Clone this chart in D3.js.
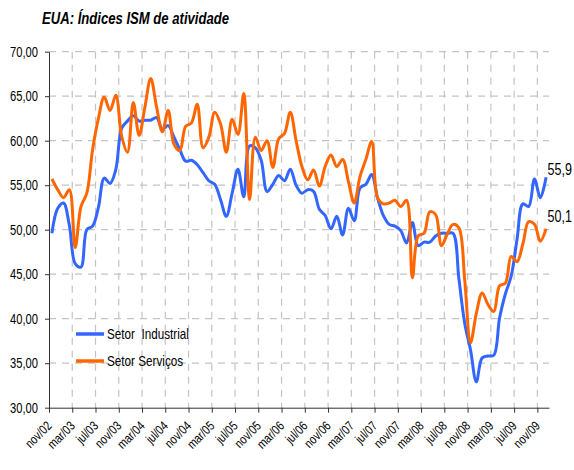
<!DOCTYPE html>
<html><head><meta charset="utf-8">
<script src="https://cdn.jsdelivr.net/npm/d3@7"></script>
<style>
body{margin:0;background:#fff;}
svg text{font-family:"Liberation Sans",Arial,sans-serif;fill:#000;}
</style></head><body>
<svg id="c" width="574" height="470"></svg>
<script>
const months = [
 "nov/02","dez/02",
 "jan/03","fev/03","mar/03","abr/03","mai/03","jun/03","jul/03","ago/03","set/03","out/03","nov/03","dez/03",
 "jan/04","fev/04","mar/04","abr/04","mai/04","jun/04","jul/04","ago/04","set/04","out/04","nov/04","dez/04",
 "jan/05","fev/05","mar/05","abr/05","mai/05","jun/05","jul/05","ago/05","set/05","out/05","nov/05","dez/05",
 "jan/06","fev/06","mar/06","abr/06","mai/06","jun/06","jul/06","ago/06","set/06","out/06","nov/06","dez/06",
 "jan/07","fev/07","mar/07","abr/07","mai/07","jun/07","jul/07","ago/07","set/07","out/07","nov/07","dez/07",
 "jan/08","fev/08","mar/08","abr/08","mai/08","jun/08","jul/08","ago/08","set/08","out/08","nov/08","dez/08",
 "jan/09","fev/09","mar/09","abr/09","mai/09","jun/09","jul/09","ago/09","set/09","out/09","nov/09","dez/09"
];
const industrial = [
 49.6,52.4,
 53.0,50.5,46.2,45.8,50.0,50.4,52.5,55.8,55.2,56.8,61.4,62.2,
 62.8,62.2,62.3,62.3,62.6,61.3,61.7,60.4,59.0,57.7,57.8,57.3,
 56.4,55.5,55.1,53.4,51.5,54.1,56.8,53.7,59.4,59.2,57.8,54.3,
 55.1,56.1,55.5,56.8,55.0,54.1,54.5,54.3,52.3,51.6,50.1,51.5,
 49.4,52.4,51.0,54.7,55.1,56.2,53.6,51.6,50.6,50.4,49.9,48.5,
 50.8,48.2,48.6,48.6,49.3,49.6,49.6,49.6,44.5,39.5,36.5,32.9,
 35.6,35.8,35.9,40.1,42.8,44.8,48.9,52.9,52.6,55.7,53.6,55.9
];
const servicos = [
 55.7,54.5,
 53.6,54.5,48.0,52.6,54.1,59.0,62.5,64.9,63.4,65.1,60.5,58.7,
 64.3,60.6,63.8,67.0,63.8,61.0,63.4,59.6,58.9,61.6,62.0,64.1,
 59.2,60.4,63.2,61.9,58.7,62.4,60.7,65.3,53.4,60.4,58.9,60.0,
 57.0,60.2,60.8,63.2,60.0,57.1,55.6,56.7,54.9,57.1,58.4,57.1,
 57.9,55.4,53.0,56.0,57.9,59.9,53.6,52.9,53.0,53.3,52.6,53.3,
 44.6,49.3,49.6,52.0,51.7,48.2,49.5,50.6,50.2,44.4,37.3,40.6,
 42.9,41.6,40.8,43.7,44.0,47.0,46.4,48.4,50.9,50.6,48.7,50.1
];
const yTicks = [30,35,40,45,50,55,60,65,70];
const xTickLabels = ["nov/02","mar/03","jul/03","nov/03","mar/04","jul/04","nov/04","mar/05","jul/05","nov/05","mar/06","jul/06","nov/06","mar/07","jul/07","nov/07","mar/08","jul/08","nov/08","mar/09","jul/09","nov/09"];
const seriesNames = ["Setor  Industrial","Setor Serviços"];
const seriesColors = ["#3366FF","#FF6600"];
const endLabels = ["55,9","50,1"];
const endLabelDy = [-2, -7];
const title = "EUA: Índices ISM de atividade";

const svg = d3.select("#c");
const L=49, R=549, T=51.7, B=407.7;
const xi = d3.scaleLinear().domain([0, months.length]).range([L, R]);
const y = d3.scaleLinear().domain([30, 70]).range([B, T]);
const tickIdx = xTickLabels.map(l => months.indexOf(l));
const grid = "#c4c4c4";

function squeeze(sel, f) {
  sel.each(function () {
    const w = this.getComputedTextLength();
    d3.select(this).attr("textLength", (w * f).toFixed(1)).attr("lengthAdjust", "spacingAndGlyphs");
  });
}

// horizontal grid
svg.append("g").selectAll("line").data(yTicks.filter(v => v > 30)).join("line")
  .attr("x1", L).attr("x2", R).attr("y1", d => y(d)).attr("y2", d => y(d))
  .attr("stroke", grid).attr("stroke-width", 1.2).attr("stroke-dasharray", "7,6");
// vertical grid
svg.append("g").selectAll("line").data(tickIdx.slice(1)).join("line")
  .attr("x1", d => xi(d)).attr("x2", d => xi(d)).attr("y1", T).attr("y2", B)
  .attr("stroke", grid).attr("stroke-width", 1.2).attr("stroke-dasharray", "7,6");

// y axis
const ya = svg.append("g").attr("transform", `translate(${L},0)`)
  .call(d3.axisLeft(y).tickValues(yTicks).tickSize(4).tickSizeOuter(0)
    .tickFormat(d => d3.format(".2f")(d).replace(".", ",")));
ya.select(".domain").attr("stroke", "#333");
ya.selectAll(".tick line").attr("stroke", "#333");
ya.selectAll("text").attr("font-size", 14).attr("x", -11).attr("font-family", null).call(squeeze, 0.8);

// x axis
const xa = svg.append("g").attr("transform", `translate(0,${B})`)
  .call(d3.axisBottom(xi).tickValues(tickIdx).tickSize(5).tickSizeOuter(0)
    .tickFormat(i => months[i]));
xa.select(".domain").attr("stroke", "#333");
xa.selectAll(".tick line").attr("stroke", "#333");
xa.selectAll("text").attr("font-size", 13).attr("font-family", null)
  .attr("text-anchor", "end").attr("dy", null)
  .attr("transform", "translate(3,19) rotate(-45)").attr("y", 0).attr("x", 0).call(squeeze, 0.8);

// lines
const line = d3.line().x((d, i) => xi(i + 0.5)).y(d => y(d)).curve(d3.curveCatmullRom.alpha(0.5));
[industrial, servicos].forEach((s, k) => {
  svg.append("path").datum(s).attr("d", line).attr("fill", "none")
    .attr("stroke", seriesColors[k]).attr("stroke-width", 3).attr("stroke-linejoin", "round");
});

// end labels (horizontally condensed via transform)
[industrial, servicos].forEach((s, k) => {
  const lx = xi(s.length - 1 + 0.5) + 1.5, ly = y(s[s.length - 1]) + endLabelDy[k];
  svg.append("text").attr("transform", `translate(${lx},${ly}) scale(0.74,1)`)
    .attr("font-size", 17).text(endLabels[k]);
});

// legend
const lg = svg.append("g");
seriesNames.forEach((n, k) => {
  const yy = 334 + k * 27;
  lg.append("line").attr("x1", 76).attr("x2", 104).attr("y1", yy).attr("y2", yy)
    .attr("stroke", seriesColors[k]).attr("stroke-width", 3.5);
  lg.append("text").attr("x", 107).attr("y", yy + 5).attr("font-size", 15)
    .attr("xml:space", "preserve").style("white-space", "pre").text(n).call(squeeze, 0.78);
});

// title
svg.append("text").attr("x", 42).attr("y", 24).attr("font-size", 16)
  .attr("font-weight", "bold").attr("font-style", "italic").text(title)
  .attr("textLength", 187).attr("lengthAdjust", "spacingAndGlyphs");
</script>
</body></html>
